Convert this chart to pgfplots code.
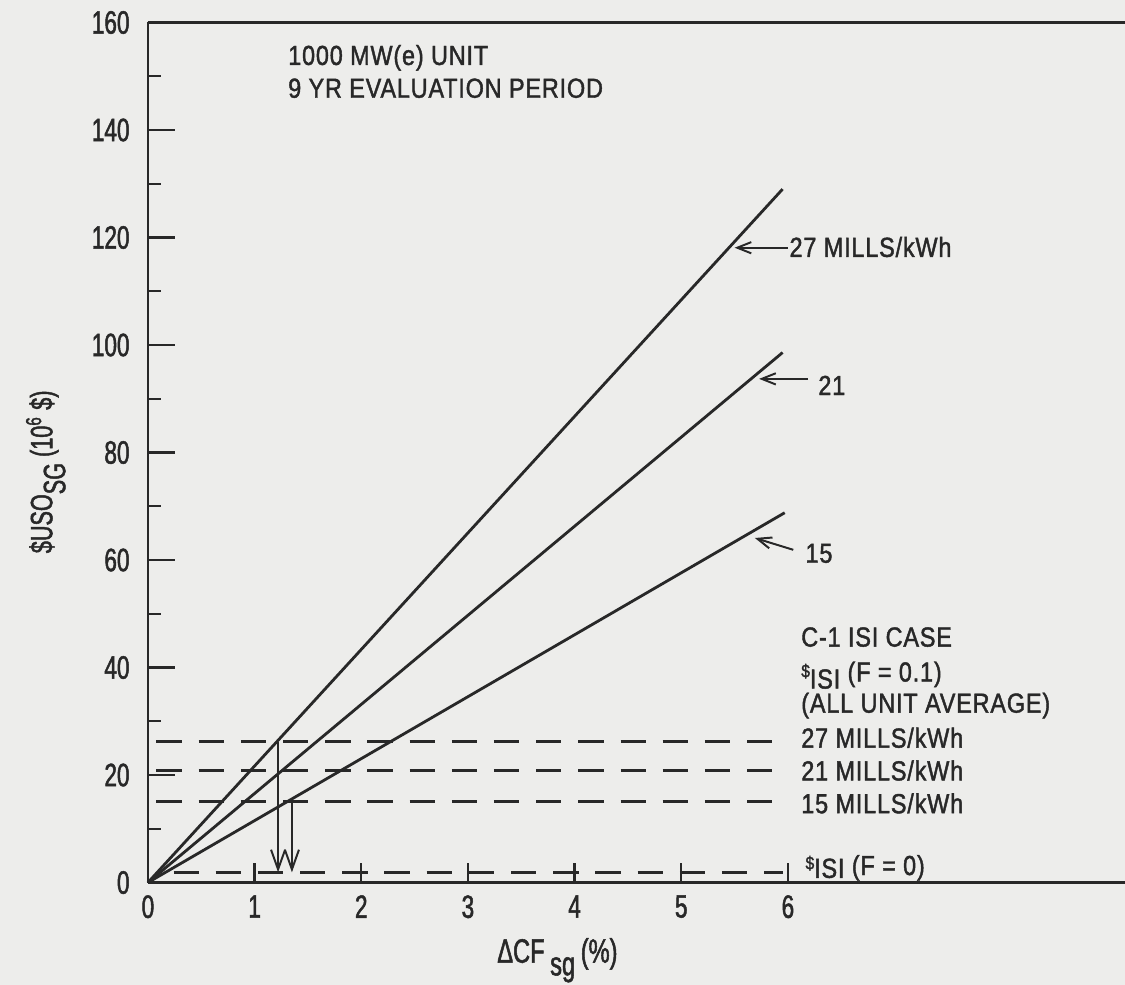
\documentclass[border=0pt]{standalone}
\usepackage{fontspec}
\setmainfont{Liberation Sans}[FakeStretch=0.85, LetterSpace=3, RawFeature={embolden=1.5}]
\newfontfamily\tickfont{Liberation Sans}[FakeStretch=0.7, RawFeature={embolden=1.5}]
\usepackage{pgfplots}
\pgfplotsset{compat=1.18}
\usetikzlibrary{arrows.meta}
\definecolor{ink}{RGB}{40,40,40}
\definecolor{paper}{RGB}{237,237,235}
\begin{document}
\begin{tikzpicture}
\fill[paper] (-52.6pt,-36.4pt) rectangle (347.4pt,313.8pt);
\begin{axis}[
  at={(0,0)}, anchor=south west,
  scale only axis, width=347.4pt, height=305.8pt,
  xmin=0, xmax=9.16, ymin=0, ymax=160,
  axis x line*=box, axis y line*=left,
  xtick pos=bottom, ytick pos=left,
  tick align=inside,
  xtick={0,1,2,3,4,5,6},
  ytick={0,20,40,60,80,100,120,140,160},
  minor ytick={10,30,50,70,90,110,130,150},
  major tick length=9.5pt, minor tick length=4.7pt,
  xtick style={/pgfplots/major tick length=7pt},
  /pgf/number format/assume math mode=true,
  tick label style={font=\tickfont\fontsize{11.5}{13}\selectfont, text=ink},
  yticklabel style={xshift=-3pt},
  xticklabel style={yshift=-1pt},
  axis line style={ink, line width=1pt},
  every tick/.style={ink, line width=0.8pt},
  clip=false,
]
% sloped lines
\addplot[ink, line width=1pt] coordinates {(0,0) (5.95,129)};
\addplot[ink, line width=1pt] coordinates {(0,0) (5.95,98.6)};
\addplot[ink, line width=1pt] coordinates {(0,0) (5.97,68.8)};
% dashed ISI levels
\addplot[ink, line width=1.1pt, dash pattern=on 9pt off 6pt] coordinates {(0.08,26.2) (5.95,26.2)};
\addplot[ink, line width=1.1pt, dash pattern=on 9pt off 6pt] coordinates {(0.08,20.8) (5.95,20.8)};
\addplot[ink, line width=1.1pt, dash pattern=on 9pt off 6pt] coordinates {(0.08,15.1) (5.95,15.1)};
\addplot[ink, line width=1.1pt, dash pattern=on 9pt off 6pt] coordinates {(0.24,1.9) (5.95,1.9)};
% vertical arrows
\addplot[ink, line width=0.7pt, -{Straight Barb[length=7pt,width=5pt]}] coordinates {(1.22,26.2) (1.22,1.9)};
\addplot[ink, line width=0.7pt, -{Straight Barb[length=7pt,width=5pt]}] coordinates {(1.35,15.1) (1.35,1.9)};
% pointer arrows
\addplot[ink, line width=0.7pt, -{Straight Barb[length=5pt,width=4pt]}] coordinates {(6.0,118.1) (5.5,118.1)};
\addplot[ink, line width=0.7pt, -{Straight Barb[length=5pt,width=4pt]}] coordinates {(6.19,93.7) (5.73,93.7)};
\addplot[ink, line width=0.7pt, -{Straight Barb[length=5pt,width=4pt]}] coordinates {(6.05,61.9) (5.69,64.1)};
% texts
\begin{scope}[every node/.style={font=\fontsize{9.8}{11}\selectfont, text=ink, inner sep=0pt, anchor=base west}]
\node at (axis cs:1.31,152.1) {1000 MW(e) UNIT};
\node at (axis cs:1.31,146.0) {9 YR EVALUATION PERIOD};
\node at (axis cs:6.01,116.4) {27 MILLS/kWh};
\node at (axis cs:6.28,90.7) {21};
\node at (axis cs:6.16,59.5) {15};
\node at (axis cs:6.12,43.9) {C-1 ISI CASE};
\node at (axis cs:6.12,37.4) {\raisebox{1.5pt}{\fontsize{6.5}{7}\selectfont\$}\raisebox{-2.5pt}{ISI} (F = 0.1)};
\node at (axis cs:6.12,31.6) {(ALL UNIT AVERAGE)};
\node at (axis cs:6.12,25.1) {27 MILLS/kWh};
\node at (axis cs:6.12,19.0) {21 MILLS/kWh};
\node at (axis cs:6.12,12.9) {15 MILLS/kWh};
\node at (axis cs:6.16,1.4) {\raisebox{2pt}{\fontsize{6.5}{7}\selectfont\$}\raisebox{-1pt}{ISI} (F = 0)};
\end{scope}
% axis labels
\node[font=\tickfont\fontsize{12}{14}\selectfont, text=ink, inner sep=0pt, anchor=base west] at ([yshift=-28.5pt]axis cs:3.27,0) {ΔCF\kern2pt\raisebox{-4.5pt}{sg}\kern2pt(\%)};
\node[font=\tickfont\fontsize{11}{13}\selectfont, text=ink, inner sep=0pt, anchor=base, rotate=90] at ([xshift=-34pt]axis cs:0,76.4) {\$USO\raisebox{-4.6pt}{SG} (10\textsuperscript{6} \$)};
\end{axis}
\pgfresetboundingbox
\path (-52.6pt,-36.4pt) rectangle (347.4pt,313.8pt);
\end{tikzpicture}
\end{document}
